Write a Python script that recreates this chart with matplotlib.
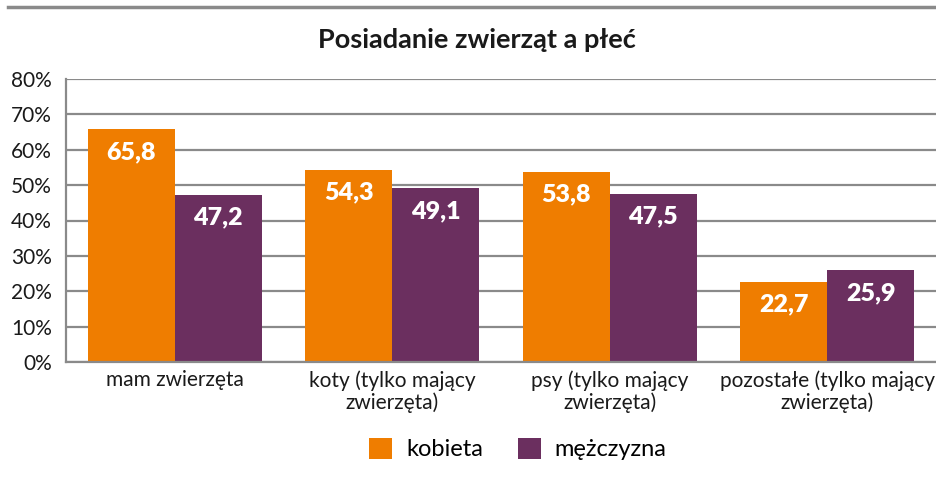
import matplotlib.pyplot as plt
import numpy as np
from matplotlib.lines import Line2D
from matplotlib.ticker import FuncFormatter

plt.rcParams['font.family'] = ['Lato', 'DejaVu Sans']

categories = ['mam zwierzęta', 'koty (tylko mający\nzwierzęta)',
              'psy (tylko mający\nzwierzęta)', 'pozostałe (tylko mający\nzwierzęta)']
kobieta = [65.8, 54.3, 53.8, 22.7]
mezczyzna = [47.2, 49.1, 47.5, 25.9]
series_names = ['kobieta', 'mężczyzna']

orange = '#EF7D00'
purple = '#6B2F5F'
grid_gray = '#8A8A8A'

fig = plt.figure(figsize=(9.36, 4.83), dpi=100)
ax = fig.add_axes([66/936, 1 - 362/483, 1 - 66/936, (362 - 79)/483])

x = np.arange(len(categories))
w = 0.4
b1 = ax.bar(x - w/2, kobieta, w, color=orange, label=series_names[0], zorder=3)
b2 = ax.bar(x + w/2, mezczyzna, w, color=purple, label=series_names[1], zorder=3)

for bars in (b1, b2):
    for rect in bars:
        v = rect.get_height()
        ax.text(rect.get_x() + rect.get_width()/2, v - 6.4, f'{v:.1f}'.replace('.', ','),
                ha='center', va='center', color='white', fontsize=18, fontweight='heavy', zorder=4)

ax.set_xlim(-0.5, len(categories) - 0.5)
ax.set_ylim(0, 80)
ax.set_yticks(np.arange(0, 81, 10))
ax.yaxis.set_major_formatter(FuncFormatter(lambda v, p: f'{v:.0f}%'))
ax.set_xticks(x)
ax.set_xticklabels(categories, fontsize=15, color='#1a1a1a', linespacing=1.1)
ax.tick_params(axis='both', length=0, labelsize=15, colors='#1a1a1a')
ax.tick_params(axis='y', pad=10)
ax.tick_params(axis='x', pad=6)
ax.yaxis.grid(True, color=grid_gray, linewidth=1.6, zorder=0)
for s in ('top', 'right'):
    ax.spines[s].set_visible(False)
for s in ('left', 'bottom'):
    ax.spines[s].set_color(grid_gray)
    ax.spines[s].set_linewidth(1.6)
ax.spines['bottom'].set_zorder(5)

fig.text(477/936, 1 - 40/483, 'Posiadanie zwierząt a płeć', ha='center', va='center',
         fontsize=19.5, fontweight='bold', color='#1a1a1a')

# top border line
fig.add_artist(Line2D([8/936, 1], [1 - 7/483, 1 - 7/483], color=grid_gray, linewidth=2.5,
                      transform=fig.transFigure))

fig.legend(handles=[b1, b2], labels=series_names, loc='center', bbox_to_anchor=(518/936, 1 - 449/483),
           ncol=2, frameon=False, fontsize=17, handlelength=0.95, handleheight=1.0,
           handletextpad=0.6, columnspacing=1.5)

fig.savefig('out.png', dpi=100)
